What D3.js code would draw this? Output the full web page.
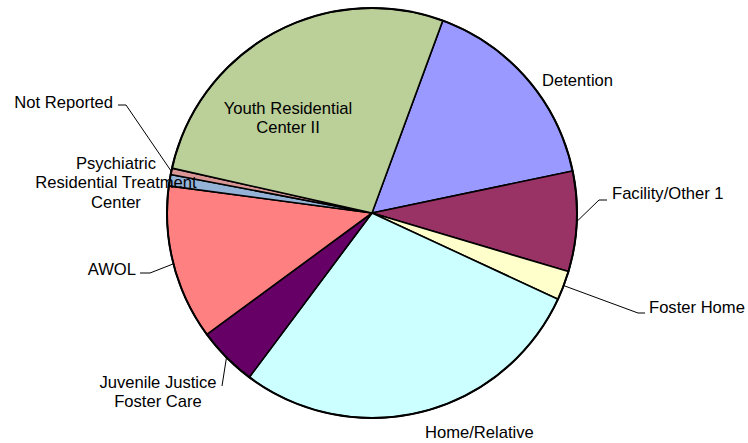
<!DOCTYPE html>
<html>
<head>
<meta charset="utf-8">
<script src="https://cdn.jsdelivr.net/npm/d3@7"></script>
<style>
  body { margin: 0; background: #fff; }
  svg { display: block; }
  text { font-family: "Liberation Sans", Arial, sans-serif; font-size: 16.6px; fill: #000; }
</style>
</head>
<body>
<svg id="chart" width="748" height="443"></svg>
<script>
// slices, clockwise from the top-right (percent of placements)
var categories = ["Detention", "Facility/Other 1", "Foster Home", "Home/Relative",
                  "Juvenile Justice Foster Care", "AWOL",
                  "Psychiatric Residential Treatment Center", "Not Reported",
                  "Youth Residential Center II"];
var values = [16.1, 7.9, 2.3, 28.3, 4.7, 12.2, 0.9, 0.5, 27.1];
var colors = ["#9999FF", "#993366", "#FFFFCC", "#CCFFFF", "#660066", "#FF8080",
              "#95B3D7", "#D99694", "#BBCF99"];
// how each label is broken into lines
var labelLines = [["Detention"], ["Facility/Other 1"], ["Foster Home"], ["Home/Relative"],
                  ["Juvenile Justice", "Foster Care"], ["AWOL"],
                  ["Psychiatric", "Residential Treatment", "Center"], ["Not Reported"],
                  ["Youth Residential", "Center II"]];

// label placement (layout only): text anchor point, anchor, leader elbow/end points
var layout = [
    { x: 542, y: 80,  anchor: "start" },
    { x: 612, y: 193, anchor: "start",  leader: [[599, 200], [607, 200]] },
    { x: 649, y: 307, anchor: "start",  leader: [[638, 313], [645, 313]] },
    { x: 425, y: 432, anchor: "start" },
    { x: 158, y: 382, anchor: "middle", leader: [[222, 386]] },
    { x: 136, y: 269, anchor: "end",    leader: [[150, 273], [140, 273]] },
    { x: 116, y: 163, anchor: "middle" },
    { x: 113, y: 102, anchor: "end",    leader: [[126, 105], [118, 105]] },
    { x: 288, y: 108, anchor: "middle" }
];

var svg = d3.select("#chart"),
    cx = 372, cy = 213, radius = 205,
    start = 20.2 * Math.PI / 180,
    g = svg.append("g").attr("transform", "translate(" + cx + "," + cy + ")");

var pie = d3.pie().sort(null).startAngle(start).endAngle(start + 2 * Math.PI),
    arc = d3.arc().innerRadius(0).outerRadius(radius),
    edge = d3.arc().innerRadius(radius).outerRadius(radius);

var arcs = pie(values);

g.selectAll("path.slice")
    .data(arcs)
    .enter().append("path")
    .attr("class", "slice")
    .attr("d", arc)
    .attr("fill", (d, i) => colors[i])
    .attr("stroke", "#000")
    .attr("stroke-width", 1.6)
    .attr("stroke-linejoin", "round");

g.append("circle")
    .attr("r", radius)
    .attr("fill", "none")
    .attr("stroke", "#000")
    .attr("stroke-width", 2);

// leader lines, from the slice edge to the label
var line = d3.line();
arcs.forEach(function (d, i) {
    var lay = layout[i];
    if (!lay.leader) return;
    var p = edge.centroid(d);
    var pts = [[p[0] + cx, p[1] + cy]].concat(lay.leader);
    svg.append("path")
        .attr("d", line(pts))
        .attr("fill", "none")
        .attr("stroke", "#000")
        .attr("stroke-width", 1);
});

// labels
categories.forEach(function (c, i) {
    var lay = layout[i],
        t = svg.append("text")
            .attr("x", lay.x)
            .attr("y", lay.y)
            .attr("text-anchor", lay.anchor);
    labelLines[i].forEach(function (s, k) {
        t.append("tspan")
            .attr("x", lay.x)
            .attr("dy", k === 0 ? "0.35em" : "19.5")
            .text(s);
    });
});
</script>
</body>
</html>
